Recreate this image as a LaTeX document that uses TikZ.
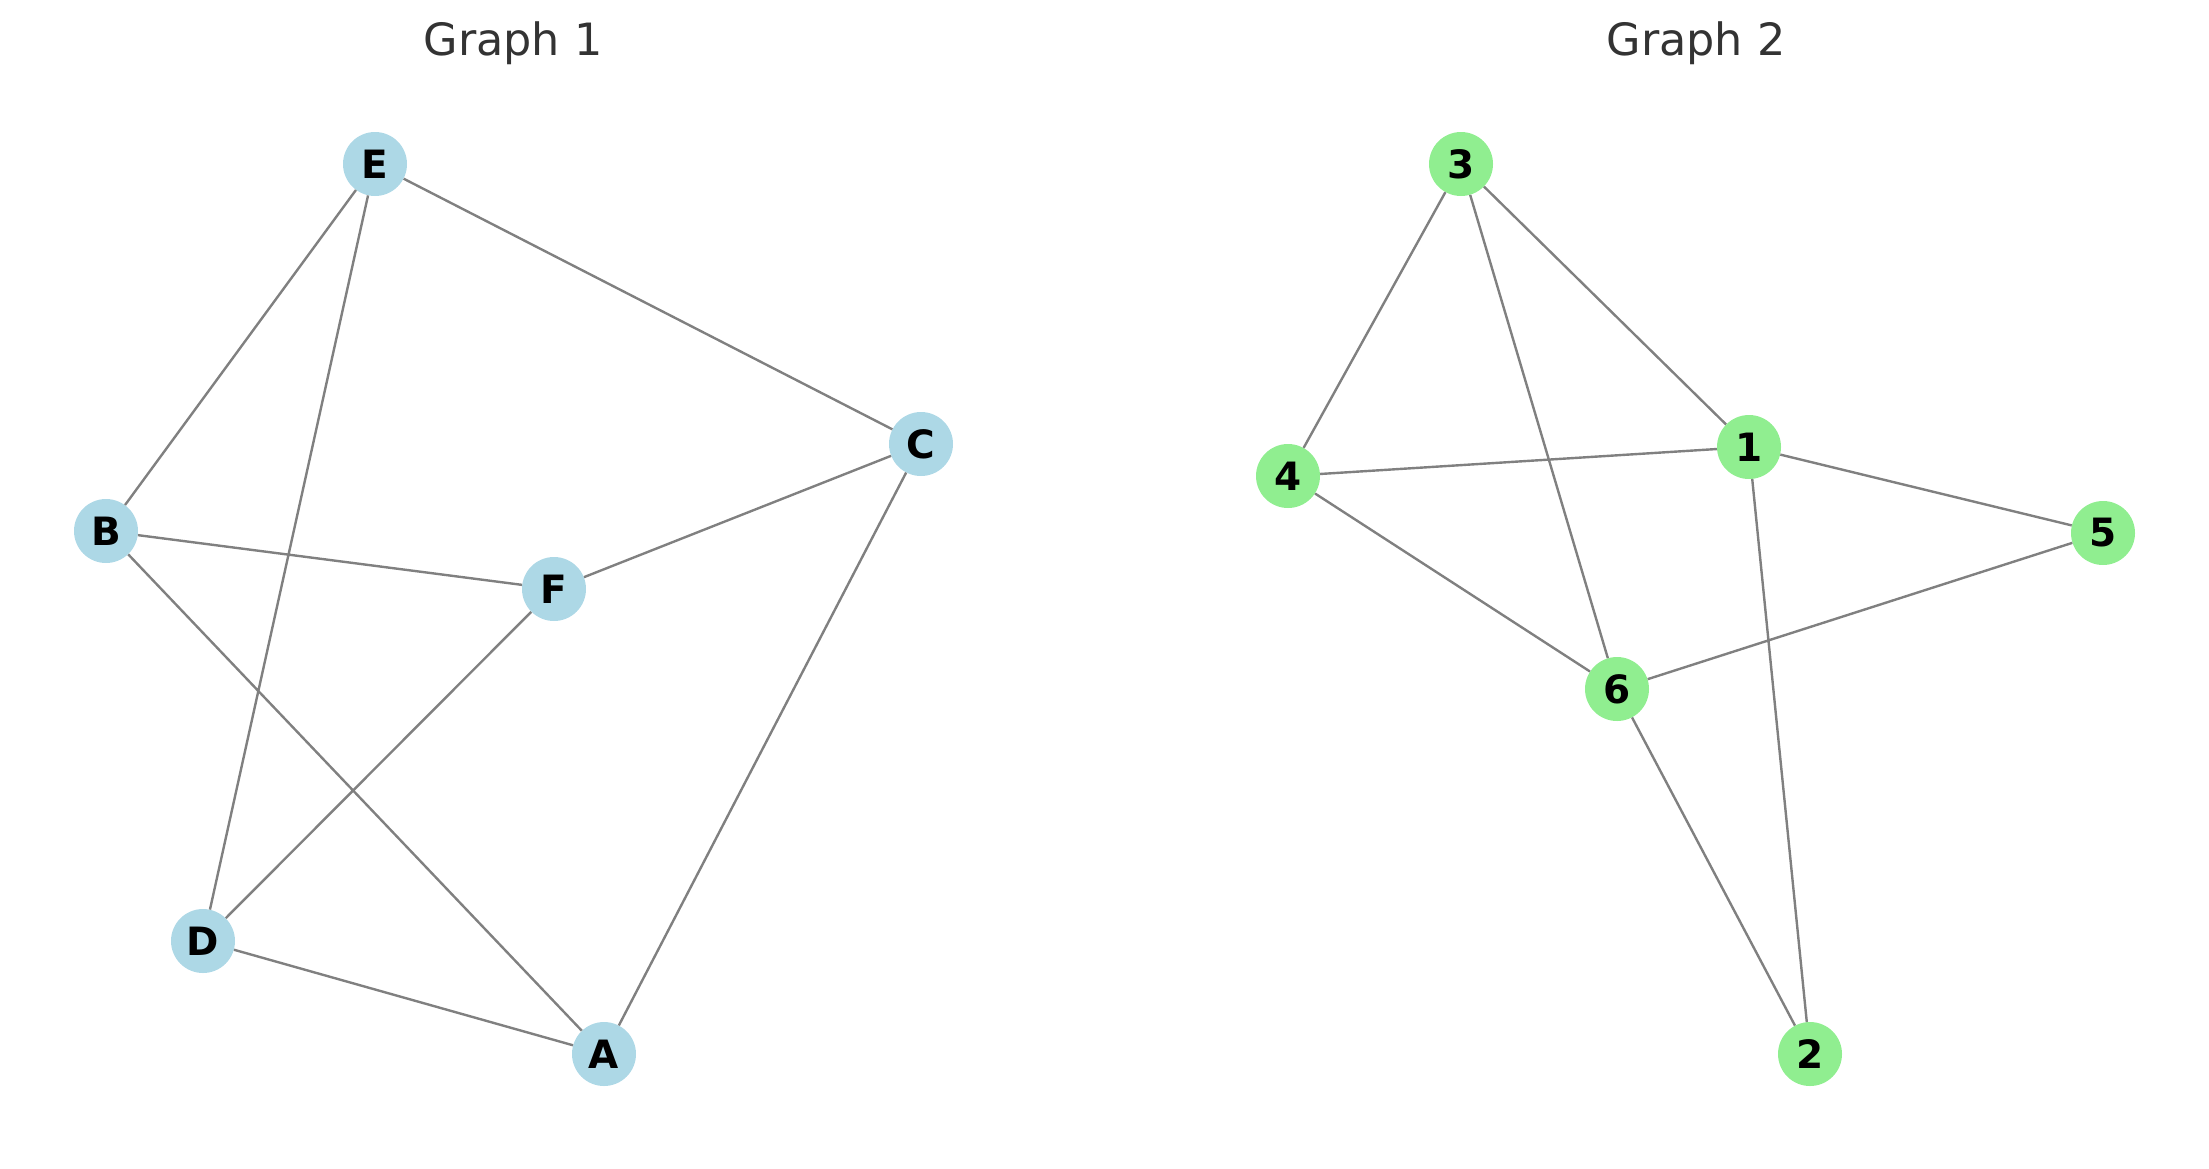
\documentclass[tikz,border=0pt]{standalone}
\usepackage{fontspec}
\setmainfont{DejaVu Sans}
\begin{document}
\begin{tikzpicture}[x=1pt,y=-1pt,
  vtx/.style={circle,minimum size=64pt,inner sep=0pt,font=\fontsize{39}{39}\selectfont\bfseries},
  blue/.style={vtx,fill={rgb,255:red,173;green,216;blue,230}},
  green/.style={vtx,fill={rgb,255:red,144;green,238;blue,144}},
  edge/.style={draw={rgb,255:red,128;green,128;blue,128},line width=2.4pt},
  ttl/.style={anchor=base,text={rgb,255:red,51;green,51;blue,51},font=\fontsize{44.5}{44.5}\selectfont}]
\useasboundingbox (0,0) rectangle (2209,1168);
% titles
\node[ttl] (t1) at (513,55) {Graph 1};
\node[ttl] (t2) at (1696,55) {Graph 2};
% graph 1 vertices
\node[blue] (E) at (375,164) {E};
\node[blue] (C) at (921,444) {C};
\node[blue] (B) at (106,531) {B};
\node[blue] (F) at (554,589) {F};
\node[blue] (D) at (203,941) {D};
\node[blue] (A) at (604,1054) {A};
% graph 2 vertices
\node[green] (n3) at (1461,164) {3};
\node[green] (n1) at (1749,447) {1};
\node[green] (n4) at (1288,476) {4};
\node[green] (n5) at (2103,533) {5};
\node[green] (n6) at (1617,689) {6};
\node[green] (n2) at (1810,1054) {2};
% graph 1 edges
\path[edge] (E) -- (C) (E) -- (B) (E) -- (D) (C) -- (F) (C) -- (A)
  (B) -- (F) (B) -- (A) (F) -- (D) (D) -- (A);
% graph 2 edges
\path[edge] (n3) -- (n4) (n3) -- (n6) (n3) -- (n1) (n4) -- (n1) (n4) -- (n6)
  (n1) -- (n5) (n1) -- (n2) (n5) -- (n6) (n6) -- (n2);
\end{tikzpicture}
\end{document}
